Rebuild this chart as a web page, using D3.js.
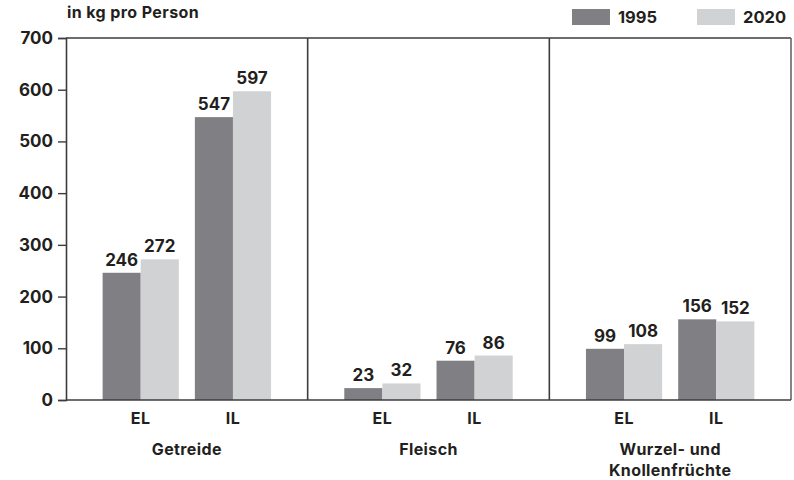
<!DOCTYPE html>
<html>
<head>
<meta charset="utf-8">
<script src="https://cdn.jsdelivr.net/npm/d3@7"></script>
<style>
  body { margin: 0; background: #fff; }
  svg text { font-family: Inter, "Open Sans", sans-serif; font-weight: 700; fill: #231f20; }
</style>
</head>
<body>
<div id="chart"></div>
<script>
// Data
var groups = ["Getreide", "Fleisch", "Wurzel- und|Knollenfrüchte"];
var regions = ["EL", "IL"];
var years = ["1995", "2020"];
var values1995 = [[246, 547], [23, 76], [99, 156]];
var values2020 = [[272, 597], [32, 86], [108, 152]];
var yTicks = [0, 100, 200, 300, 400, 500, 600, 700];

var width = 794, height = 480;
var margin = {top: 38, right: 3, bottom: 80, left: 66};

var svg = d3.select("#chart").append("svg")
    .attr("width", width)
    .attr("height", height);

var colors = d3.scaleOrdinal().domain(years).range(["#808084", "#d1d2d4"]);

// scales
var x0 = d3.scaleBand()
    .domain(groups)
    .range([margin.left, width - margin.right]);

var x1 = d3.scaleBand()
    .domain(regions)
    .range([0, x0.bandwidth()])
    .paddingInner(0.174)
    .paddingOuter(0.397);

var x2 = d3.scaleBand()
    .domain(years)
    .range([0, x1.bandwidth()]);

var y = d3.scaleLinear()
    .domain([0, 700])
    .range([height - margin.bottom, margin.top]);

// bars
var rows = [];
groups.forEach(function(g, gi) {
    regions.forEach(function(r, ri) {
        rows.push({group: g, region: r, year: "1995", value: values1995[gi][ri]});
        rows.push({group: g, region: r, year: "2020", value: values2020[gi][ri]});
    });
});

svg.append("g").selectAll("rect")
    .data(rows)
    .enter().append("rect")
    .attr("x", function(d) { return x0(d.group) + x1(d.region) + x2(d.year); })
    .attr("width", x2.bandwidth())
    .attr("y", function(d) { return y(d.value); })
    .attr("height", function(d) { return y(0) - y(d.value); })
    .attr("fill", function(d) { return colors(d.year); });

// value labels
svg.append("g").selectAll("text")
    .data(rows)
    .enter().append("text")
    .attr("x", function(d) { return x0(d.group) + x1(d.region) + x2(d.year) + x2.bandwidth() / 2; })
    .attr("y", function(d) { return y(d.value) - 7; })
    .attr("text-anchor", "middle")
    .style("font-size", "17px")
    .text(function(d) { return d.value; });

// frame: top line, separators, right border
var frame = svg.append("g").attr("stroke", "#3c3c3c").attr("stroke-width", 1.6).attr("fill", "none");
frame.append("line")
    .attr("x1", margin.left).attr("x2", width - margin.right)
    .attr("y1", y(700)).attr("y2", y(700));
groups.slice(1).forEach(function(g) {
    frame.append("line")
        .attr("x1", x0(g)).attr("x2", x0(g))
        .attr("y1", y(700)).attr("y2", y(0));
});
frame.append("line")
    .attr("x1", width - margin.right).attr("x2", width - margin.right)
    .attr("y1", y(700)).attr("y2", y(0))
    .attr("stroke", "#666");

// y axis
var yAxis = d3.axisLeft(y).tickValues(yTicks).tickSize(8).tickPadding(5);
var gy = svg.append("g")
    .attr("transform", "translate(" + margin.left + ",0)")
    .call(yAxis);
gy.select(".domain").attr("stroke", "#3c3c3c").attr("stroke-width", 1.6);
gy.selectAll(".tick line").attr("stroke", "#3c3c3c").attr("stroke-width", 1.4);
gy.selectAll(".tick text").style("font-size", "17px").attr("fill", "#231f20");

// x baseline
svg.append("line")
    .attr("x1", margin.left).attr("x2", width - margin.right)
    .attr("y1", y(0)).attr("y2", y(0))
    .attr("stroke", "#3c3c3c").attr("stroke-width", 1.6);

// region labels
var regionLabels = [];
groups.forEach(function(g) {
    regions.forEach(function(r) { regionLabels.push({group: g, region: r}); });
});
svg.append("g").selectAll("text")
    .data(regionLabels)
    .enter().append("text")
    .attr("x", function(d) { return x0(d.group) + x1(d.region) + x1.bandwidth() / 2; })
    .attr("y", y(0) + 24)
    .attr("text-anchor", "middle")
    .style("font-size", "16px")
    .style("letter-spacing", "0.5px")
    .text(function(d) { return d.region; });

// group labels (| = line break)
var gl = svg.append("g").selectAll("text")
    .data(groups)
    .enter().append("text")
    .attr("x", function(d) { return x0(d) + x0.bandwidth() / 2; })
    .attr("y", y(0) + 55)
    .attr("text-anchor", "middle")
    .style("font-size", "16px")
    .style("letter-spacing", "0.4px");
gl.selectAll("tspan")
    .data(function(d) { return d.split("|").map(function(t) { return {t: t, x: x0(d) + x0.bandwidth() / 2}; }); })
    .enter().append("tspan")
    .attr("x", function(d) { return d.x; })
    .attr("dy", function(d, i) { return i ? 21 : 0; })
    .text(function(d) { return d.t; });

// unit label
svg.append("text")
    .attr("x", margin.left + 1)
    .attr("y", 18)
    .style("font-size", "16px")
    .style("letter-spacing", "0.4px")
    .text("in kg pro Person");

// legend
var legend = svg.append("g").selectAll("g")
    .data(years)
    .enter().append("g")
    .attr("transform", function(d, i) { return "translate(" + (572 + i * 125) + ",9)"; });
legend.append("rect")
    .attr("width", 38).attr("height", 16)
    .attr("fill", function(d) { return colors(d); });
legend.append("text")
    .attr("x", 46).attr("y", 14)
    .style("font-size", "16.5px")
    .text(function(d) { return d; });
</script>
</body>
</html>
